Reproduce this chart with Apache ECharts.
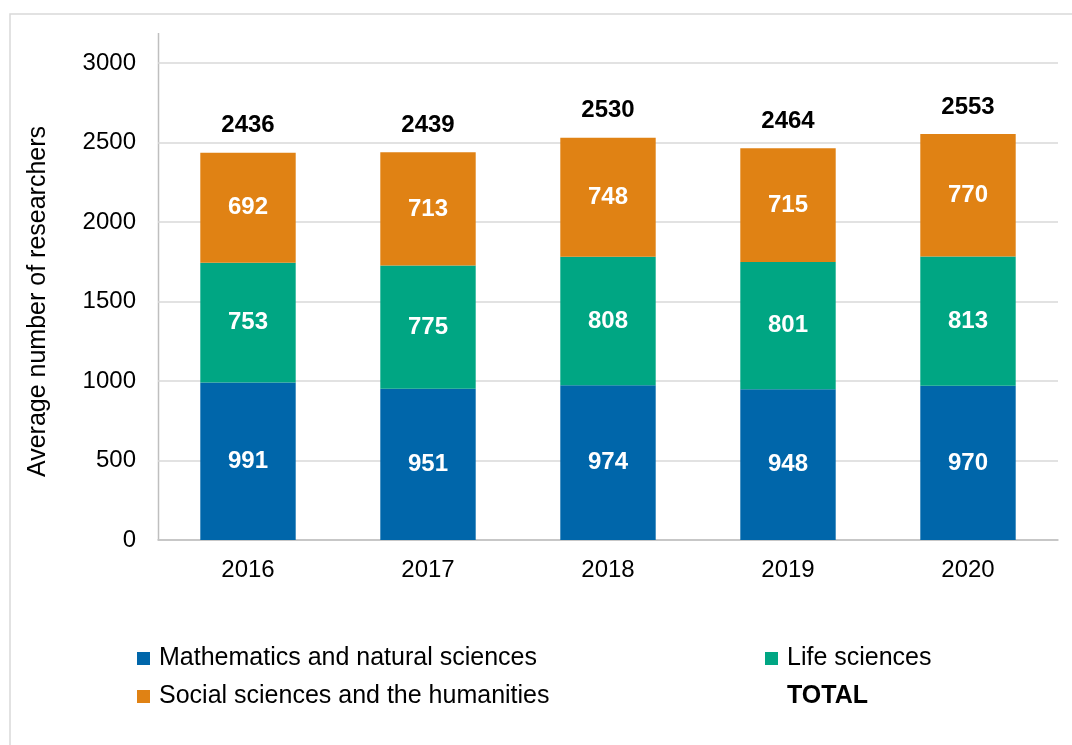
<!DOCTYPE html>
<html>
<head>
<meta charset="utf-8">
<script src="https://cdn.jsdelivr.net/npm/echarts@6/dist/echarts.min.js"></script>
<style>
  html, body { margin: 0; padding: 0; background: #fff; }
  #chart { width: 1072px; height: 745px; }
</style>
</head>
<body>
<div id="chart"></div>
<script>
// Researchers by field of science, yearly averages
const years = ['2016', '2017', '2018', '2019', '2020'];
const mathNatural = [991, 951, 974, 948, 970];
const lifeSciences = [753, 775, 808, 801, 813];
const socialHumanities = [692, 713, 748, 715, 770];
const totals = [2436, 2439, 2530, 2464, 2553];

const FONT = 'Liberation Sans, Arial, sans-serif';
const FS = 24;
const chart = echarts.init(document.getElementById('chart'));

const segLabel = {
  show: true,
  position: 'inside',
  color: '#fff',
  fontWeight: 'bold',
  fontSize: FS,
  fontFamily: FONT
};

function stackBar(name, data, color) {
  return {
    name: name,
    type: 'bar',
    stack: 'all',
    data: data,
    barWidth: '53%',
    itemStyle: { color: color },
    label: segLabel
  };
}

const legendText = { fontSize: 25, color: '#000', fontFamily: FONT, padding: [0, 0, 0, 4] };

chart.setOption({
  animation: false,
  textStyle: { fontFamily: FONT },
  graphic: [
    {
      type: 'rect',
      shape: { x: 10, y: 14, width: 1100, height: 800 },
      style: { fill: 'none', stroke: '#d9d9d9', lineWidth: 1.5 },
      silent: true
    },
    {
      type: 'line',
      shape: { x1: 158.5, y1: 33, x2: 158.5, y2: 540 },
      style: { stroke: '#bfbfbf', lineWidth: 1.5 },
      silent: true
    }
  ],
  grid: { left: 158, right: 14, top: 63, bottom: 205 },
  legend: [
    {
      orient: 'vertical',
      left: 132,
      top: 641,
      icon: 'rect',
      itemWidth: 13,
      itemHeight: 13,
      itemGap: 13,
      textStyle: legendText,
      data: ['Mathematics and natural sciences', 'Social sciences and the humanities']
    },
    {
      orient: 'vertical',
      left: 760,
      top: 641,
      icon: 'rect',
      itemWidth: 13,
      itemHeight: 13,
      itemGap: 13,
      textStyle: legendText,
      data: [
        'Life sciences',
        { name: 'TOTAL', itemStyle: { opacity: 0 }, textStyle: { fontWeight: 'bold' } }
      ]
    }
  ],
  xAxis: {
    type: 'category',
    data: years,
    axisLine: { lineStyle: { color: '#bfbfbf', width: 1.5 } },
    axisTick: { show: false },
    axisLabel: { fontSize: FS, color: '#000', margin: 18, fontFamily: FONT }
  },
  yAxis: {
    type: 'value',
    min: 0,
    max: 3000,
    interval: 500,
    name: 'Average number of researchers',
    nameLocation: 'middle',
    nameGap: 107,
    nameTextStyle: { fontSize: 25, color: '#000', fontFamily: FONT },
    axisLine: { show: false },
    axisTick: { show: false },
    axisLabel: {
      fontSize: FS, color: '#000', margin: 22, fontFamily: FONT,
      formatter: function (v) { return String(v); }
    },
    splitLine: { lineStyle: { color: '#d9d9d9', width: 1.5 } }
  },
  series: [
    stackBar('Mathematics and natural sciences', mathNatural, '#0066AA'),
    stackBar('Life sciences', lifeSciences, '#00A683'),
    stackBar('Social sciences and the humanities', socialHumanities, '#E08214'),
    {
      name: 'TOTAL',
      type: 'line',
      data: totals,
      symbol: 'circle',
      symbolSize: 0,
      itemStyle: { color: '#000' },
      lineStyle: { opacity: 0 },
      label: {
        show: true,
        position: 'top',
        distance: 15,
        color: '#000',
        fontWeight: 'bold',
        fontSize: FS,
        fontFamily: FONT
      }
    }
  ]
});
</script>
</body>
</html>
